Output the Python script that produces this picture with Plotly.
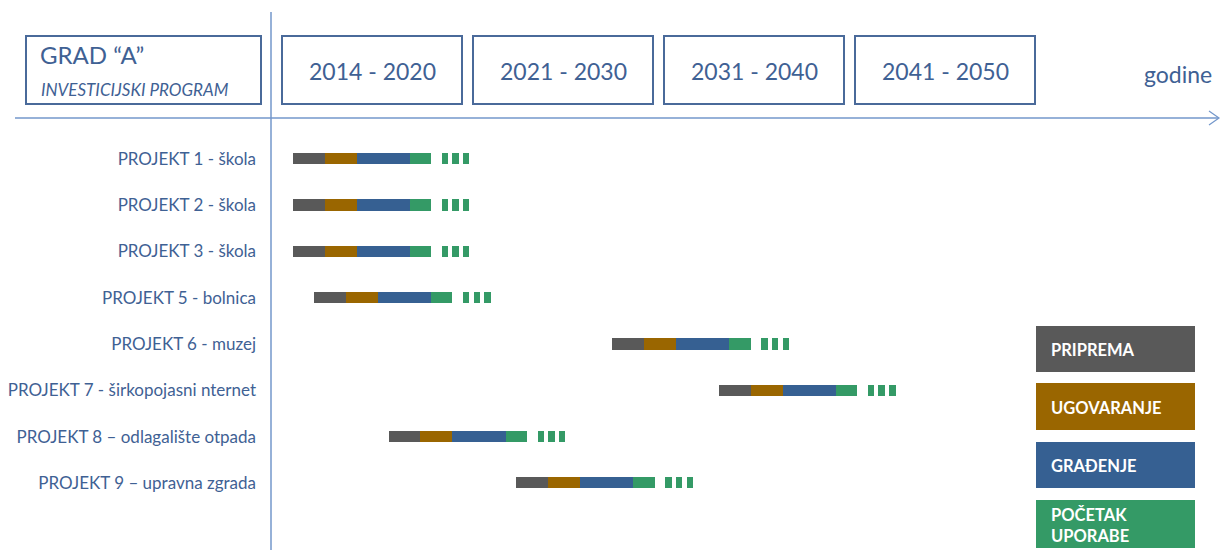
import plotly.graph_objects as go

# ---- data ----
projects = [
    "PROJEKT 1 - škola",
    "PROJEKT 2 - škola",
    "PROJEKT 3 - škola",
    "PROJEKT 5 - bolnica",
    "PROJEKT 6 - muzej",
    "PROJEKT 7 - širkopojasni nternet",
    "PROJEKT 8 – odlagalište otpada",
    "PROJEKT 9 – upravna zgrada",
]
start = [0.5, 0.5, 0.5, 1.5, 15.5, 20.5, 5.0, 11.0]
priprema = [1.5, 1.5, 1.5, 1.5, 1.5, 1.5, 1.5, 1.5]
ugovaranje = [1.5, 1.5, 1.5, 1.5, 1.5, 1.5, 1.5, 1.5]
gradjenje = [2.5, 2.5, 2.5, 2.5, 2.5, 2.5, 2.5, 2.5]
pocetak = [1.0, 1.0, 1.0, 1.0, 1.0, 1.0, 1.0, 1.0]
continuation_offsets = [0.5, 1.0, 1.5]
periods = ["2014 - 2020", "2021 - 2030", "2031 - 2040", "2041 - 2050"]
phase_names = ["PRIPREMA", "UGOVARANJE", "GRAĐENJE", "POČETAK<br>UPORABE"]

colors = ["#595959", "#9A6600", "#366092", "#349A66"]
TXT = "#3F6194"
LINE = "#7397CB"
BOX = "#4A6A9A"
FONT = "Lato, Open Sans, sans-serif"

rows = list(range(len(projects)))
fig = go.Figure()

phases = [priprema, ugovaranje, gradjenje, pocetak]
base = list(start)
for name, dur, col in zip(phase_names, phases, colors):
    fig.add_trace(go.Bar(
        orientation="h", y=rows, x=dur, base=list(base), width=0.24,
        marker=dict(color=col, line=dict(width=0)), name=name.replace("<br>", " "),
        showlegend=False, hoverinfo="skip"))
    base = [b + d for b, d in zip(base, dur)]
ends = base
for off in continuation_offsets:
    fig.add_trace(go.Bar(
        orientation="h", y=rows, x=[0.3] * len(rows), base=[e + off for e in ends],
        width=0.24, marker=dict(color=colors[3], line=dict(width=0)),
        showlegend=False, hoverinfo="skip"))

# pixel helpers for layout decoration (plot area: x 271..1221, y 118..550)
L, T, W, H = 271, 118, 950, 432
def px(x):
    return (x - L) / W
def py(y):
    return 1 + (T - y) / H

shapes = []
# axes lines
shapes.append(dict(type="line", xref="paper", yref="paper", x0=px(271), x1=px(271),
                   y0=py(12), y1=py(550), line=dict(color=LINE, width=1.5)))
shapes.append(dict(type="line", xref="paper", yref="paper", x0=px(15), x1=px(1218),
                   y0=py(118), y1=py(118), line=dict(color=LINE, width=1.5)))
shapes.append(dict(type="path", xref="paper", yref="paper",
                   path=f"M {px(1209)} {py(111)} L {px(1219)} {py(118)} L {px(1209)} {py(125)}",
                   line=dict(color=LINE, width=1.2)))
# header boxes
shapes.append(dict(type="rect", xref="paper", yref="paper", x0=px(26), x1=px(261),
                   y0=py(104), y1=py(36), line=dict(color=BOX, width=2)))
annotations = []
annotations.append(dict(xref="paper", yref="paper", x=px(38), y=py(54), text="GRAD “A”",
                        showarrow=False, xanchor="left", yanchor="middle",
                        font=dict(family=FONT, size=24, color=TXT)))
annotations.append(dict(xref="paper", yref="paper", x=px(39), y=py(89),
                        text="<i>INVESTICIJSKI PROGRAM</i>",
                        showarrow=False, xanchor="left", yanchor="middle",
                        font=dict(family=FONT, size=17, color=TXT)))
for i, p in enumerate(periods):
    x0 = 282 + 191 * i
    shapes.append(dict(type="rect", xref="paper", yref="paper", x0=px(x0), x1=px(x0 + 180),
                       y0=py(104), y1=py(36), line=dict(color=BOX, width=2)))
    annotations.append(dict(xref="paper", yref="paper", x=px(x0 + 90), y=py(71), text=p,
                            showarrow=False, xanchor="center", yanchor="middle",
                            font=dict(family=FONT, size=23, color=TXT)))
annotations.append(dict(xref="paper", yref="paper", x=px(1214), y=py(74), text="godine",
                        showarrow=False, xanchor="right", yanchor="middle",
                        font=dict(family=FONT, size=23, color=TXT)))
# legend boxes
leg_y = [(326, 372), (383, 430), (442, 488), (500, 548)]
for (y0, y1), name, col in zip(leg_y, phase_names, colors):
    shapes.append(dict(type="rect", xref="paper", yref="paper", x0=px(1036), x1=px(1195),
                       y0=py(y1), y1=py(y0), fillcolor=col, line=dict(width=0)))
    annotations.append(dict(xref="paper", yref="paper", x=px(1049), y=py((y0 + y1) / 2 + 1),
                            text=f"<b>{name}</b>", showarrow=False, xanchor="left",
                            yanchor="middle", align="left",
                            font=dict(family=FONT, size=16.5, color="white")))

fig.update_layout(
    width=1221, height=550,
    margin=dict(l=L, r=0, t=T, b=0, pad=0),
    plot_bgcolor="white", paper_bgcolor="white",
    barmode="overlay", bargap=0,
    shapes=shapes, annotations=annotations,
    xaxis=dict(range=[-0.516, 44.08], visible=False, fixedrange=True),
    yaxis=dict(range=[8.45, -0.88], tickvals=rows, ticktext=projects,
               showgrid=False, zeroline=False, showline=False, ticks="", fixedrange=True,
               ticklabelstandoff=14, tickfont=dict(family=FONT, size=17, color=TXT)),
    hovermode=False,
)

fig.write_html("out.html", config={"displayModeBar": False},
               post_script="document.body.style.margin='0';document.body.style.overflow='hidden';")
